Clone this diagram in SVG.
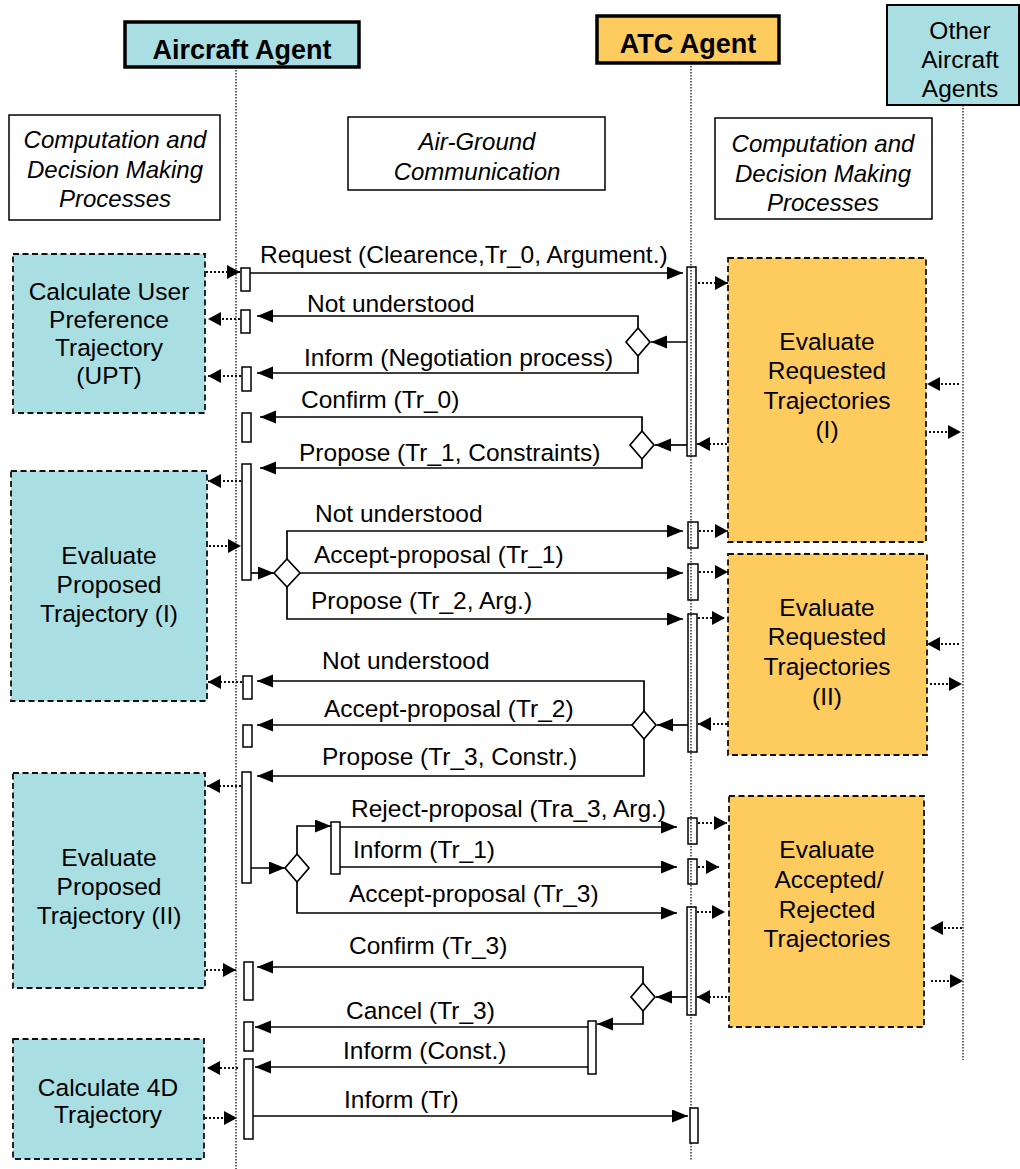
<svg xmlns="http://www.w3.org/2000/svg" width="1020" height="1169" viewBox="0 0 1020 1169">
  <style>
    text { font-family: "Liberation Sans", Arial, sans-serif; font-size: 24.5px; fill: #000; }
    .title { font-weight: bold; font-size: 27px; text-anchor: middle; }
    .mid { text-anchor: middle; }
    .ital { font-style: italic; text-anchor: middle; font-size: 24px; }
    .head-ac { fill: #A9DEE2; stroke: #000; stroke-width: 3.5; }
    .head-atc { fill: #FECB5E; stroke: #000; stroke-width: 3.5; }
    .head-other { fill: #A9DEE2; stroke: #000; stroke-width: 2; }
    .note { fill: #fff; stroke: #000; stroke-width: 1.5; }
    .proc-ac { fill: #A9DEE2; stroke: #111; stroke-width: 1.8; stroke-dasharray: 6 3.5; }
    .proc-atc { fill: #FECB5E; stroke: #111; stroke-width: 1.8; stroke-dasharray: 6 3.5; }
    .life { fill: none; stroke: #333; stroke-width: 1.5; stroke-dasharray: 1.5 1.5; }
    .bar { fill: #fff; stroke: #000; stroke-width: 1.5; }
    .bar-atc { fill: none; stroke: #000; stroke-width: 1.5; }
    .msg { fill: none; stroke: #000; stroke-width: 1.7; }
    .arr { marker-end: url(#solid); }
    .dot { fill: none; stroke: #111; stroke-width: 2; stroke-dasharray: 2 2; marker-end: url(#dotted); }
    .dia { fill: #fff; stroke: #000; stroke-width: 1.7; }
  </style>
  <defs>
    <marker id="solid" markerUnits="userSpaceOnUse" markerWidth="17" markerHeight="14" refX="16" refY="6.5" orient="auto">
      <path d="M0,0 L16,6.5 L0,13 z" fill="#000"/>
    </marker>
    <marker id="dotted" markerUnits="userSpaceOnUse" markerWidth="14" markerHeight="15" refX="13" refY="7" orient="auto">
      <path d="M0,0 L13,7 L0,14 z" fill="#000"/>
    </marker>
  </defs>

  <rect width="1020" height="1169" fill="#fff"/>

  <!-- lifelines -->
  <g id="lifelines">
    <line class="life" x1="236" y1="67" x2="236" y2="1169"/>
    <line class="life" x1="691" y1="63" x2="691" y2="1160"/>
    <line class="life" x1="963" y1="105" x2="963" y2="1060"/>
  </g>

  <!-- agents -->
  <g id="aircraft-agent">
    <rect class="head-ac" x="125" y="22" width="234" height="45"/>
    <text class="title" x="242" y="59">Aircraft Agent</text>
  </g>
  <g id="atc-agent">
    <rect class="head-atc" x="597" y="16" width="182" height="47"/>
    <text class="title" x="688" y="53">ATC Agent</text>
  </g>
  <g id="other-aircraft-agents">
    <rect class="head-other" x="887" y="5" width="132" height="100"/>
    <text class="mid" x="960" y="39">Other</text>
    <text class="mid" x="960" y="68">Aircraft</text>
    <text class="mid" x="960" y="97">Agents</text>
  </g>

  <!-- column headings -->
  <g id="heading-aircraft-computation">
    <rect class="note" x="9" y="115" width="211" height="105"/>
    <text class="ital" x="115" y="148">Computation and</text>
    <text class="ital" x="115" y="178">Decision Making</text>
    <text class="ital" x="115" y="207">Processes</text>
  </g>
  <g id="heading-communication">
    <rect class="note" x="348" y="117" width="257" height="73"/>
    <text class="ital" x="477" y="150">Air-Ground</text>
    <text class="ital" x="477" y="180">Communication</text>
  </g>
  <g id="heading-atc-computation">
    <rect class="note" x="715" y="118" width="217" height="101"/>
    <text class="ital" x="823" y="152">Computation and</text>
    <text class="ital" x="823" y="182">Decision Making</text>
    <text class="ital" x="823" y="211">Processes</text>
  </g>

  <!-- aircraft processes -->
  <g id="calc-upt">
    <rect class="proc-ac" x="13" y="254" width="192" height="159"/>
    <text class="mid" x="109" y="300">Calculate User</text>
    <text class="mid" x="109" y="328">Preference</text>
    <text class="mid" x="109" y="356">Trajectory</text>
    <text class="mid" x="109" y="384">(UPT)</text>
  </g>
  <g id="eval-proposed-1">
    <rect class="proc-ac" x="11" y="471" width="196" height="230"/>
    <text class="mid" x="109" y="564">Evaluate</text>
    <text class="mid" x="109" y="593">Proposed</text>
    <text class="mid" x="109" y="622">Trajectory (I)</text>
  </g>
  <g id="eval-proposed-2">
    <rect class="proc-ac" x="13" y="773" width="192" height="215"/>
    <text class="mid" x="109" y="866">Evaluate</text>
    <text class="mid" x="109" y="895">Proposed</text>
    <text class="mid" x="109" y="924">Trajectory (II)</text>
  </g>
  <g id="calc-4d">
    <rect class="proc-ac" x="13" y="1039" width="191" height="120"/>
    <text class="mid" x="108" y="1096">Calculate 4D</text>
    <text class="mid" x="108" y="1123">Trajectory</text>
  </g>

  <!-- ATC processes -->
  <g id="eval-requested-1">
    <rect class="proc-atc" x="728" y="258" width="198" height="284"/>
    <text class="mid" x="827" y="350">Evaluate</text>
    <text class="mid" x="827" y="379">Requested</text>
    <text class="mid" x="827" y="409">Trajectories</text>
    <text class="mid" x="827" y="438">(I)</text>
  </g>
  <g id="eval-requested-2">
    <rect class="proc-atc" x="728" y="554" width="199" height="201"/>
    <text class="mid" x="827" y="616">Evaluate</text>
    <text class="mid" x="827" y="645">Requested</text>
    <text class="mid" x="827" y="675">Trajectories</text>
    <text class="mid" x="827" y="705">(II)</text>
  </g>
  <g id="eval-accepted-rejected">
    <rect class="proc-atc" x="729" y="796" width="195" height="231"/>
    <text class="mid" x="827" y="858">Evaluate</text>
    <text class="mid" x="829" y="888">Accepted/</text>
    <text class="mid" x="827" y="918">Rejected</text>
    <text class="mid" x="827" y="947">Trajectories</text>
  </g>

  <!-- activation bars -->
  <g id="activations">
    <rect class="bar" x="241" y="268" width="9" height="23"/>
    <rect class="bar" x="241" y="310" width="9" height="23"/>
    <rect class="bar" x="242" y="367" width="9" height="24"/>
    <rect class="bar" x="242" y="413" width="9" height="29"/>
    <rect class="bar" x="242" y="464" width="9" height="116"/>
    <rect class="bar" x="243" y="676" width="9" height="23"/>
    <rect class="bar" x="243" y="725" width="9" height="22"/>
    <rect class="bar" x="242" y="772" width="9" height="111"/>
    <rect class="bar" x="331" y="822" width="9" height="52"/>
    <rect class="bar" x="244" y="962" width="9" height="38"/>
    <rect class="bar" x="244" y="1022" width="9" height="29"/>
    <rect class="bar" x="244" y="1059" width="9" height="80"/>
    <rect class="bar" x="588" y="1021" width="8" height="53"/>
    <rect class="bar-atc" x="687" y="267" width="9" height="189"/>
    <rect class="bar-atc" x="688" y="522" width="10" height="26"/>
    <rect class="bar-atc" x="688" y="564" width="10" height="36"/>
    <rect class="bar-atc" x="688" y="614" width="9" height="138"/>
    <rect class="bar-atc" x="688" y="818" width="9" height="26"/>
    <rect class="bar-atc" x="688" y="859" width="9" height="25"/>
    <rect class="bar-atc" x="687" y="907" width="9" height="108"/>
    <rect class="bar" x="690" y="1108" width="8" height="35"/>
  </g>

  <!-- messages and decision points -->
  <g id="connectors">
    <path class="msg arr" d="M250,273 H683"/>

    <polygon class="dia" points="626,342 638,328 650,342 638,356"/>
    <path class="msg arr" d="M687,342 H651"/>
    <path class="msg arr" d="M638,328 V316 H257"/>
    <path class="msg arr" d="M638,356 V373 H257"/>

    <polygon class="dia" points="630,445 642,431 654,445 642,459"/>
    <path class="msg arr" d="M687,445 H655"/>
    <path class="msg arr" d="M642,431 V417 H260"/>
    <path class="msg arr" d="M642,459 V468 H260"/>

    <polygon class="dia" points="274,573 287,559 300,573 287,587"/>
    <path class="msg arr" d="M251,573 H274"/>
    <path class="msg arr" d="M287,559 V531 H683"/>
    <path class="msg arr" d="M300,573 H683"/>
    <path class="msg arr" d="M287,587 V619 H683"/>

    <polygon class="dia" points="632,725 644,711 656,725 644,739"/>
    <path class="msg arr" d="M688,725 H657"/>
    <path class="msg arr" d="M644,711 V681 H257"/>
    <path class="msg arr" d="M632,725 H257"/>
    <path class="msg arr" d="M644,739 V776 H257"/>

    <polygon class="dia" points="285,868 297,854 309,868 297,882"/>
    <path class="msg arr" d="M251,868 H285"/>
    <path class="msg arr" d="M297,854 V826 H331"/>
    <path class="msg arr" d="M297,882 V913 H677"/>
    <path class="msg arr" d="M340,827 H677"/>
    <path class="msg arr" d="M340,867 H677"/>

    <polygon class="dia" points="631,997 643,983 655,997 643,1011"/>
    <path class="msg arr" d="M687,997 H656"/>
    <path class="msg arr" d="M643,983 V967 H257"/>
    <path class="msg arr" d="M643,1011 V1024 H597"/>
    <path class="msg arr" d="M588,1027 H255"/>
    <path class="msg arr" d="M588,1067 H255"/>
    <path class="msg arr" d="M253,1116 H688"/>

    <!-- aircraft side: processes and bars -->
    <path class="dot" d="M206,272 H240"/>
    <path class="dot" d="M240,319 H208"/>
    <path class="dot" d="M241,376 H208"/>
    <path class="dot" d="M241,481 H208"/>
    <path class="dot" d="M209,546 H241"/>
    <path class="dot" d="M242,682 H208"/>
    <path class="dot" d="M241,786 H207"/>
    <path class="dot" d="M206,970 H236"/>
    <path class="dot" d="M238,1068 H207"/>
    <path class="dot" d="M205,1118 H237"/>

    <!-- ATC side: bars and processes -->
    <path class="dot" d="M698,283 H728"/>
    <path class="dot" d="M727,444 H697"/>
    <path class="dot" d="M699,531 H728"/>
    <path class="dot" d="M699,572 H728"/>
    <path class="dot" d="M698,618 H725"/>
    <path class="dot" d="M727,724 H698"/>
    <path class="dot" d="M698,823 H727"/>
    <path class="dot" d="M698,867 H719"/>
    <path class="dot" d="M697,912 H725"/>
    <path class="dot" d="M727,997 H697"/>

    <!-- ATC processes and other aircraft -->
    <path class="dot" d="M959,384 H927"/>
    <path class="dot" d="M929,432 H961"/>
    <path class="dot" d="M959,644 H927"/>
    <path class="dot" d="M930,684 H962"/>
    <path class="dot" d="M962,928 H930"/>
    <path class="dot" d="M931,981 H963"/>
  </g>

  <!-- message labels -->
  <g id="message-labels">
    <text x="260" y="263">Request (Clearence,Tr_0, Argument.)</text>
    <text x="307" y="312">Not understood</text>
    <text x="304" y="366">Inform (Negotiation process)</text>
    <text x="301" y="408">Confirm (Tr_0)</text>
    <text x="299" y="461">Propose (Tr_1, Constraints)</text>
    <text x="315" y="522">Not understood</text>
    <text x="314" y="563">Accept-proposal (Tr_1)</text>
    <text x="311" y="609">Propose (Tr_2, Arg.)</text>
    <text x="322" y="669">Not understood</text>
    <text x="324" y="717">Accept-proposal (Tr_2)</text>
    <text x="322" y="765">Propose (Tr_3, Constr.)</text>
    <text x="351" y="817">Reject-proposal (Tra_3, Arg.)</text>
    <text x="353" y="858">Inform (Tr_1)</text>
    <text x="349" y="902">Accept-proposal (Tr_3)</text>
    <text x="349" y="954">Confirm (Tr_3)</text>
    <text x="346" y="1019">Cancel (Tr_3)</text>
    <text x="343" y="1059">Inform (Const.)</text>
    <text x="344" y="1108">Inform (Tr)</text>
  </g>
</svg>
